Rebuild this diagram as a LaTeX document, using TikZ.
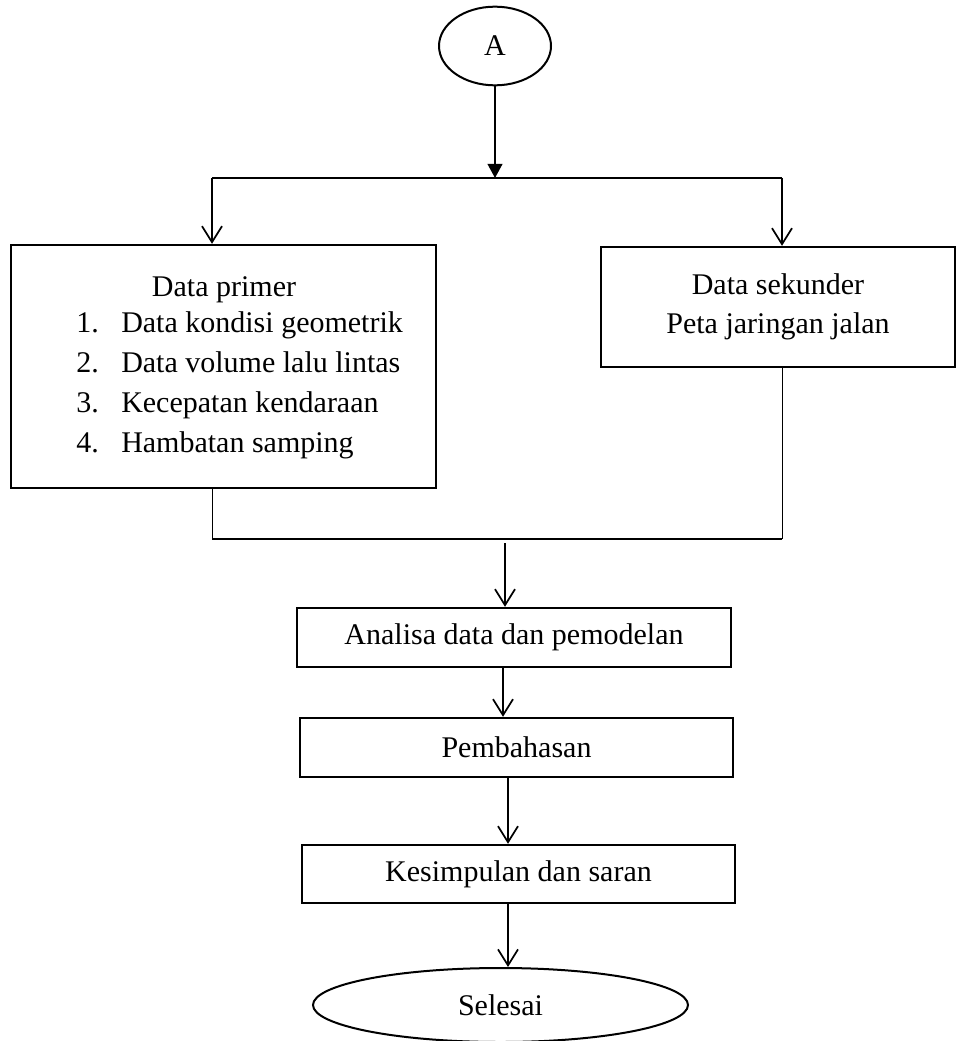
\documentclass[tikz,border=0pt]{standalone}
\usepackage{fontspec}
\setmainfont{Liberation Serif}
\usetikzlibrary{shapes.geometric,arrows.meta}

\begin{document}
\begin{tikzpicture}
			[x=0.75pt,y=-0.75pt,line cap=butt,
			%Styles
			every node/.style={font=\fontsize{22.5}{29.25}\selectfont},
			process/.style={draw,rectangle,line width=1.8pt,inner sep=0pt},
			terminal/.style={draw,ellipse,line width=1.5pt,inner sep=0pt},
			plain text/.style={inner sep=0pt},
			flow/.style={line width=1.3pt,-{Straight Barb[length=12pt,width=15pt]}},
			first flow/.style={line width=1.3pt,-{Triangle[length=10.5pt,width=11pt]}},
			branch line/.style={line width=1.4pt},
			join line/.style={line width=0.6pt}
			]
			
			\useasboundingbox (0,0) rectangle (956,1041);
			
			%The graphic
			\node[terminal,minimum width=84pt,minimum height=59pt] (mulai) at (495,46) {A};
			
			\coordinate (cabang) at (495,178);
			\coordinate (cabangkiri) at (212,178);
			\coordinate (cabangkanan) at (782,178);
			
			\node[process,minimum width=318.75pt,minimum height=182.25pt] (primer) at (223.5,366.5) {};
			\node[plain text,anchor=base] (judulprimer) at (224,296) {Data primer};
			\foreach \no/\isi [count=\i] in {1./Data kondisi geometrik,2./Data volume lalu lintas,3./Kecepatan kendaraan,4./Hambatan samping}
			{
				\node[plain text,anchor=base west] (nomor\i) at (76,{292+40*\i}) {\no};
				\node[plain text,anchor=base west] (butir\i) at (121,{292+40*\i}) {\isi};
			}
			
			\node[process,minimum width=265.5pt,minimum height=90pt,align=center] (sekunder) at (778,307) {Data sekunder\\Peta jaringan jalan};
			
			\coordinate (gabungkiri) at (212,539);
			\coordinate (gabungkanan) at (782,539);
			\coordinate (gabung) at (505,543);
			
			\node[process,minimum width=325.5pt,minimum height=44.25pt] (analisa) at (514,637.5) {Analisa data dan pemodelan};
			\node[process,minimum width=324.75pt,minimum height=44.25pt] (bahas) at (516.5,747.5) {Pembahasan};
			\node[process,minimum width=324.75pt,minimum height=43.5pt] (simpulan) at (518.5,874) {Kesimpulan dan saran};
			\node[terminal,minimum width=281.25pt,minimum height=55.5pt] (selesai) at (500.5,1005) {Selesai};
			
			\draw[first flow] (mulai) -- (cabang);
			\draw[branch line] (cabangkiri) -- (cabangkanan);
			\draw[flow] (cabangkiri) -- (primer.north -| cabangkiri);
			\draw[flow] (cabangkanan) -- (sekunder.north -| cabangkanan);
			
			\draw[join line] (primer.south -| gabungkiri) -- (gabungkiri);
			\draw[join line] (sekunder.south -| gabungkanan) -- (gabungkanan);
			\draw[branch line] (gabungkiri) -- (gabungkanan);
			
			\draw[flow] (gabung) -- (analisa.north -| gabung);
			\draw[flow] (analisa.south -| 503,0) -- (bahas.north -| 503,0);
			\draw[flow] (bahas.south -| 508,0) -- (simpulan.north -| 508,0);
			\draw[flow] (simpulan.south -| 508,0) -- (selesai.north -| 508,0);
		\end{tikzpicture}
\end{document}
